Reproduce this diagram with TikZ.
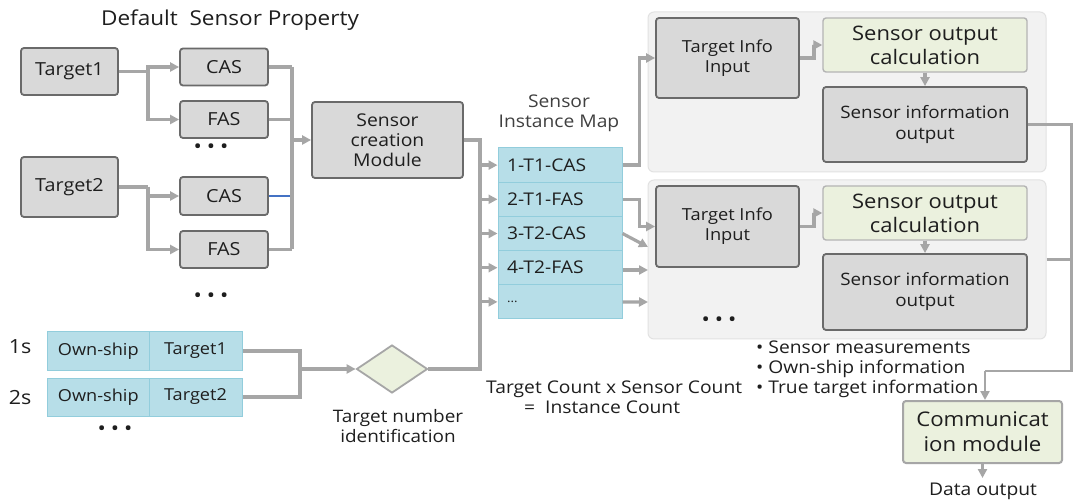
\documentclass[tikz,border=0pt]{standalone}
\usepackage{fontspec}
\setmainfont{Open Sans}[FakeStretch=1.1]
\usetikzlibrary{arrows.meta,shapes.geometric,calc}
\definecolor{boxfill}{HTML}{D9D9D9}
\definecolor{boxline}{HTML}{6A6A6A}
\definecolor{wiregray}{HTML}{A6A6A6}
\definecolor{wireblue}{HTML}{4472C4}
\definecolor{cellfill}{HTML}{B7DEE8}
\definecolor{cellline}{HTML}{92CDDC}
\definecolor{panelfill}{HTML}{F2F2F2}
\definecolor{panelline}{HTML}{E2E2E2}
\definecolor{calcfill}{HTML}{EBF1DE}
\definecolor{calcline}{HTML}{B4B4B4}
\definecolor{ink}{HTML}{1E1E1E}
\newcommand\fsz[2]{\fontsize{#1}{#2}\selectfont}
\newcommand\threedots{•\hspace{5pt}•\hspace{5pt}•}
\begin{document}
\begin{tikzpicture}[x=1pt,y=-1pt,
  gbox/.style={draw=boxline, fill=boxfill, line width=1.8pt, rounded corners=3pt,
    align=center, inner sep=0pt, text=ink},
  cell/.style={draw=cellline, fill=cellfill, line width=1pt, inner sep=0pt, text=ink},
  mapcell/.style={cell, minimum width=124pt, minimum height=34.2pt, text width=106pt,
    align=left, inner xsep=9pt, font=\fsz{17.5}{19}},
  panel/.style={draw=panelline, fill=panelfill, line width=1pt, rounded corners=6pt, inner sep=0pt},
  calcbox/.style={draw=calcline, fill=calcfill, line width=1.4pt, rounded corners=3pt,
    align=center, inner sep=0pt, text=ink},
  wire/.style={draw=wiregray, line width=3.2pt},
  arr/.style={wire, -{Triangle[length=9pt,width=9pt]}},
  lbl/.style={text=ink, align=center, inner sep=0pt},
  dotrow/.style={text=ink, inner sep=0pt, font=\fsz{20}{20}}]

\useasboundingbox[fill=white] (0,0) rectangle (1073,502);

% ---- default sensor property ----
\node[lbl, font=\fsz{20.5}{22}] (title) at (230,20) {Default\ \ Sensor Property};

\node[gbox, minimum width=97pt, minimum height=47pt, font=\fsz{18}{20}] (t1) at (69.5,71.5) {Target1};
\node[gbox, minimum width=97pt, minimum height=60pt, font=\fsz{18}{20}] (t2) at (69.5,187) {Target2};
\node[gbox, minimum width=88pt, minimum height=37pt, font=\fsz{18}{20}] (cas1) at (224,67) {CAS};
\node[gbox, minimum width=88pt, minimum height=37pt, font=\fsz{18}{20}] (fas1) at (224,119.5) {FAS};
\node[gbox, minimum width=88pt, minimum height=38pt, font=\fsz{18}{20}] (cas2) at (224,196) {CAS};
\node[gbox, minimum width=88pt, minimum height=37pt, font=\fsz{18}{20}] (fas2) at (224,249.5) {FAS};
\node[dotrow] (dots1) at (211,149) {\threedots};
\node[dotrow] (dots2) at (211,298) {\threedots};

\node[gbox, minimum width=151pt, minimum height=76pt, font=\fsz{17.6}{20}] (scm) at (387.5,140) {Sensor\\creation\\Module};

\coordinate (j1) at (148,71.5);
\coordinate (j2) at (148,187);
\draw[wire] (t1.east) -- (j1);
\draw[arr] (j1) |- (cas1.west);
\draw[arr] (j1) |- (fas1.west);
\draw[wire] (t2.east) -- (j2);
\draw[arr] (j2) |- (cas2.west);
\draw[arr] (j2) |- (fas2.west);

\coordinate (b1top) at (292,67);
\coordinate (b1bot) at (292,249.5);
\draw[wire] (cas1.east) -- (cas1.east -| b1top);
\draw[wire] (fas1.east) -- (fas1.east -| b1top);
\draw[wire] (fas2.east) -- (fas2.east -| b1top);
\draw[draw=wireblue, line width=2.6pt] (cas2.east) -- (cas2.east -| b1top);
\draw[wire] (b1top) -- (b1bot);
\draw[arr] (b1top |- scm.west) -- (scm.west);

% ---- time steps ----
\node[lbl, font=\fsz{19.5}{20}] (s1) at (20,347) {1s};
\node[lbl, font=\fsz{19.5}{20}] (s2) at (20,398) {2s};
\node[cell, minimum width=101.5pt, minimum height=38pt, font=\fsz{16.5}{18}] (o1a) at (98.25,351) {Own-ship};
\node[cell, minimum width=93pt, minimum height=38pt, font=\fsz{16.5}{18}] (o1b) at (195.5,351) {Target1};
\node[cell, minimum width=101.5pt, minimum height=38pt, font=\fsz{16.5}{18}] (o2a) at (98.25,397) {Own-ship};
\node[cell, minimum width=93pt, minimum height=38pt, font=\fsz{16.5}{18}] (o2b) at (195.5,397) {Target2};
\node[dotrow] (dots3) at (115,431) {\threedots};

\node[diamond, aspect=1.48, draw=wiregray, fill=calcfill, line width=1.8pt,
  minimum width=71pt, minimum height=48pt, inner sep=0pt] (dia) at (392,369) {};
\node[lbl, font=\fsz{17.2}{19.5}] (tnid) at (398,426) {Target number\\identification};

\coordinate (jo) at (300,369);
\draw[wire] (o1b.east) -| (jo);
\draw[wire] (o2b.east) -| (jo);
\draw[arr] (jo) -- (dia.west);

% ---- sensor instance map ----
\node[lbl, font=\fsz{17.5}{20}, text=ink!85] (maplbl) at (559,113) {Sensor\\Instance Map};
\node[mapcell] (m1) at (560,165.1) {1-T1-CAS};
\node[mapcell] (m2) at (560,199.3) {2-T1-FAS};
\node[mapcell] (m3) at (560,233.5) {3-T2-CAS};
\node[mapcell] (m4) at (560,267.7) {4-T2-FAS};
\node[mapcell] (m5) at (560,301.9) {\fsz{12}{12}...};
\coordinate (b2top) at (480,140);
\coordinate (b2bot) at (480,369);
\draw[wire] (scm.east) -- (b2top) -- (b2bot) -- (dia.east);
\foreach \i in {1,2,3,4,5}{
  \draw[arr] (b2top |- m\i.west) -- (m\i.west);
}
\node[lbl, align=left, anchor=west, font=\fsz{17.5}{20}] (cnt) at (486,397) {Target Count x Sensor Count\\\hspace*{38pt}=\ \ Instance Count};

% ---- sensor instances ----
\node[panel, minimum width=398pt, minimum height=160pt] (p1) at (847,92) {};
\node[panel, minimum width=398pt, minimum height=159pt] (p2) at (847,259.5) {};

\node[gbox, minimum width=143pt, minimum height=80pt, font=\fsz{16.6}{20}] (tii1) at (727.5,58) {Target Info\\Input};
\node[calcbox, minimum width=204pt, minimum height=54pt, font=\fsz{20}{24}] (soc1) at (925,45) {Sensor output\\calculation};
\node[gbox, minimum width=204pt, minimum height=75pt, font=\fsz{17.1}{21}] (sio1) at (925,124.5) {Sensor information\\output};

\node[gbox, minimum width=143pt, minimum height=81pt, font=\fsz{16.6}{20}] (tii2) at (727.5,226.5) {Target Info\\Input};
\node[calcbox, minimum width=204pt, minimum height=54pt, font=\fsz{20}{24}] (soc2) at (925,213) {Sensor output\\calculation};
\node[gbox, minimum width=204pt, minimum height=76pt, font=\fsz{17.1}{21}] (sio2) at (925,292) {Sensor information\\output};
\node[dotrow] (dots4) at (719,322) {\threedots};

\draw[arr] (tii1.east) -- ++(14,0) |- (soc1.west);
\draw[arr] (soc1.south) -- (sio1.north);
\draw[arr] (tii2.east) -- ++(14,0) |- (soc2.west);
\draw[arr] (soc2.south) -- (sio2.north);

\draw[arr] (m1.east) -- ++(17,0) |- (tii1.west);
\draw[arr] (m2.east) -- ++(17,0) |- (tii2.west);
\coordinate (a3) at (648,247);
\coordinate (a4) at (648,270);
\coordinate (a5) at (648,302);
\draw[arr] (m3.east) -- (a3);
\draw[arr] ($(m4.east)+(0,2.3)$) -- (a4);
\draw[arr] (m5.east) -- (a5);

% ---- communication ----
\node[lbl, align=left, anchor=west, font=\fsz{17.5}{20}] (notes) at (756,369) {• Sensor measurements\\• Own-ship information\\• True target information};

\node[calcbox, draw=wiregray, line width=2pt, minimum width=159pt, minimum height=62pt, font=\fsz{20.2}{25}] (comm) at (982.5,432) {Communicat\\ion module};

\coordinate (rb1) at (1071.5,124.5);
\coordinate (rb2) at (1071.5,371);
\coordinate (cj) at (985,371);
\draw[wire, line width=2.6pt] (sio1.east) -- (rb1) -- (rb2) -- (cj);
\draw[wire, line width=2.6pt] (p2.east) -- (p2.east -| rb1);
\draw[arr, line width=2.6pt] (cj) -- (cj |- comm.north);

\coordinate (dout) at (982.5,478);
\draw[arr, line width=2.6pt] (comm.south) -- (dout);
\node[lbl, font=\fsz{17.5}{19}] (dlab) at (983,491) {Data output};

\end{tikzpicture}
\end{document}
